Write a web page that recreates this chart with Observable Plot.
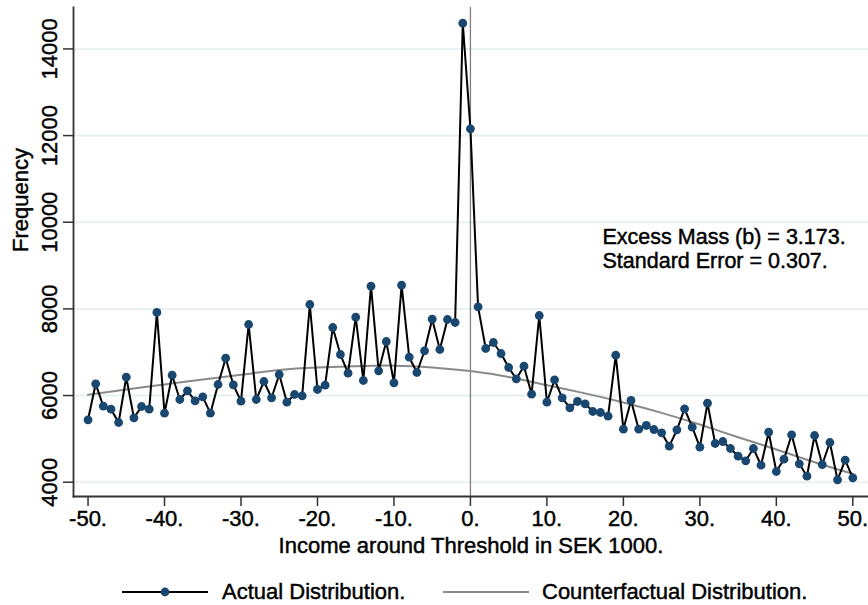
<!DOCTYPE html>
<html>
<head>
<meta charset="utf-8">
<script src="https://cdn.jsdelivr.net/npm/d3@7"></script>
<script src="https://cdn.jsdelivr.net/npm/@observablehq/plot@0.6"></script>
<style>
  body { margin: 0; background: #fff; font-family: "Liberation Sans", Arial, sans-serif; }
  #chart svg text { stroke: #000; stroke-width: 0.45px; }
  #legend { position: relative; width: 868px; height: 43px; font-size: 22px; color: #000; }
  #legend span { position: absolute; line-height: 22px; white-space: nowrap; -webkit-text-stroke: 0.45px #000; }
  #legend svg { position: absolute; }
</style>
</head>
<body>
<div id="chart"></div>
<div id="legend"></div>
<script>
// Income bins (SEK 1000 around threshold)
const income = [-50,-49,-48,-47,-46,-45,-44,-43,-42,-41,-40,-39,-38,-37,-36,-35,-34,-33,-32,-31,
  -30,-29,-28,-27,-26,-25,-24,-23,-22,-21,-20,-19,-18,-17,-16,-15,-14,-13,-12,-11,
  -10,-9,-8,-7,-6,-5,-4,-3,-2,-1,0,1,2,3,4,5,6,7,8,9,
  10,11,12,13,14,15,16,17,18,19,20,21,22,23,24,25,26,27,28,29,
  30,31,32,33,34,35,36,37,38,39,40,41,42,43,44,45,46,47,48,49,50];

// Actual distribution (frequency)
const actual = [5440,6271,5754,5685,5378,6423,5486,5747,5685,7917,5593,6470,5909,6109,5879,5971,5593,6255,6862,6248,
  5869,7640,5909,6324,5948,6486,5846,6024,5994,8101,6140,6239,7570,6947,6516,7808,6347,8524,6571,7247,
  6294,8547,6885,6532,7033,7762,7063,7755,7686,14594,12157,8048,7086,7224,6970,6647,6386,6677,6031,7847,
  5846,6363,5948,5717,5863,5809,5632,5609,5523,6931,5223,5886,5223,5309,5216,5140,4831,5209,5694,5269,
  4808,5823,4893,4939,4778,4600,4494,4778,4392,5154,4247,4531,5094,4425,4138,5078,4408,4916,4055,4508,4102];

// Counterfactual distribution (read at every 5 units)
const cfIncome = [-50,-45,-40,-35,-30,-25,-20,-15,-10,-5,0,5,10,15,20,25,30,35,40,45,50];
const cfFreq = [6017,6140,6255,6370,6478,6590,6647,6677,6690,6650,6565,6428,6240,6050,5840,5600,5330,5039,4755,4462,4194];

const threshold = [0];
const xTicks = [-50,-40,-30,-20,-10,0,10,20,30,40,50];
const yTicks = [4000,6000,8000,10000,12000,14000];
const xTitle = "Income around Threshold in SEK 1000.";
const yTitle = "Frequency";
const annotation = ["Excess Mass (b) = 3.173.", "Standard Error = 0.307."];
const seriesNames = ["Actual Distribution.", "Counterfactual Distribution."];

const navy = "#1a476f";
const cfGray = "#8a8a8a";
const axisColor = "#333";

const actualData = income.map((x, i) => ({x, y: actual[i]}));
const cfData = cfIncome.map((x, i) => ({x, y: cfFreq[i]}));

const chart = Plot.plot({
  width: 868,
  height: 562,
  marginLeft: 73,
  marginRight: 0,
  marginTop: 7,
  marginBottom: 66,
  style: {fontFamily: "'Liberation Sans', Arial, sans-serif", fontSize: "22px", background: "#fff", color: "#000"},
  x: {domain: [-51.9, 52.05]},
  y: {domain: [3670, 14956]},
  marks: [
    Plot.gridY(yTicks, {stroke: "#e8f0f2", strokeOpacity: 1, strokeWidth: 2}),
    Plot.ruleX(threshold, {stroke: "#7f7f7f", strokeWidth: 1.3}),
    Plot.line(cfData, {x: "x", y: "y", curve: "natural", stroke: cfGray, strokeWidth: 2}),
    Plot.line(actualData, {x: "x", y: "y", stroke: "#000", strokeWidth: 2}),
    Plot.dot(actualData, {x: "x", y: "y", r: 4.4, fill: navy, stroke: "none"}),
    Plot.axisX({ticks: xTicks, tickSize: 10, tickPadding: 4, tickFormat: d => `${d}.`, label: null,
      stroke: axisColor, strokeWidth: 1.5, fontSize: 22, fill: "#000"}),
    Plot.axisY({ticks: yTicks, tickSize: 10, tickPadding: 7, tickRotate: -90, tickFormat: d => String(d),
      label: null, stroke: axisColor, strokeWidth: 1.5, fontSize: 22, fill: "#000"}),
    Plot.frame({anchor: "left", stroke: axisColor, strokeWidth: 1.8}),
    Plot.frame({anchor: "bottom", stroke: axisColor, strokeWidth: 1.8}),
    Plot.text([xTitle], {frameAnchor: "bottom", dy: 56, lineAnchor: "bottom", fontSize: 22, fill: "#000"}),
    Plot.text([yTitle], {frameAnchor: "left", dx: -46, rotate: -90, lineAnchor: "bottom", fontSize: 22, fill: "#000"}),
    Plot.text([annotation[0]], {frameAnchor: "top-left", dx: 529, dy: 221, textAnchor: "start",
      lineAnchor: "top", fontSize: 21.5, fill: "#000"}),
    Plot.text([annotation[1]], {frameAnchor: "top-left", dx: 529, dy: 245.5, textAnchor: "start",
      lineAnchor: "top", fontSize: 21.5, fill: "#000"})
  ]
});
document.getElementById("chart").append(chart);

// Legend below the chart
const legend = document.getElementById("legend");
const items = [
  {name: seriesNames[0], stroke: "#000", marker: true, swatchLeft: 122, textLeft: 222},
  {name: seriesNames[1], stroke: cfGray, marker: false, swatchLeft: 443, textLeft: 542}
];
for (const it of items) {
  const ns = "http://www.w3.org/2000/svg";
  const svg = document.createElementNS(ns, "svg");
  svg.setAttribute("width", 86);
  svg.setAttribute("height", 12);
  svg.style.left = it.swatchLeft + "px";
  svg.style.top = "24px";
  const ln = document.createElementNS(ns, "line");
  ln.setAttribute("x1", 0); ln.setAttribute("x2", 86);
  ln.setAttribute("y1", 6); ln.setAttribute("y2", 6);
  ln.setAttribute("stroke", it.stroke); ln.setAttribute("stroke-width", 2);
  svg.append(ln);
  if (it.marker) {
    const c = document.createElementNS(ns, "circle");
    c.setAttribute("cx", 43); c.setAttribute("cy", 6); c.setAttribute("r", 4.4);
    c.setAttribute("fill", navy);
    svg.append(c);
  }
  legend.append(svg);
  const sp = document.createElement("span");
  sp.textContent = it.name;
  sp.style.left = it.textLeft + "px";
  sp.style.top = "19px";
  legend.append(sp);
}
</script>
</body>
</html>
